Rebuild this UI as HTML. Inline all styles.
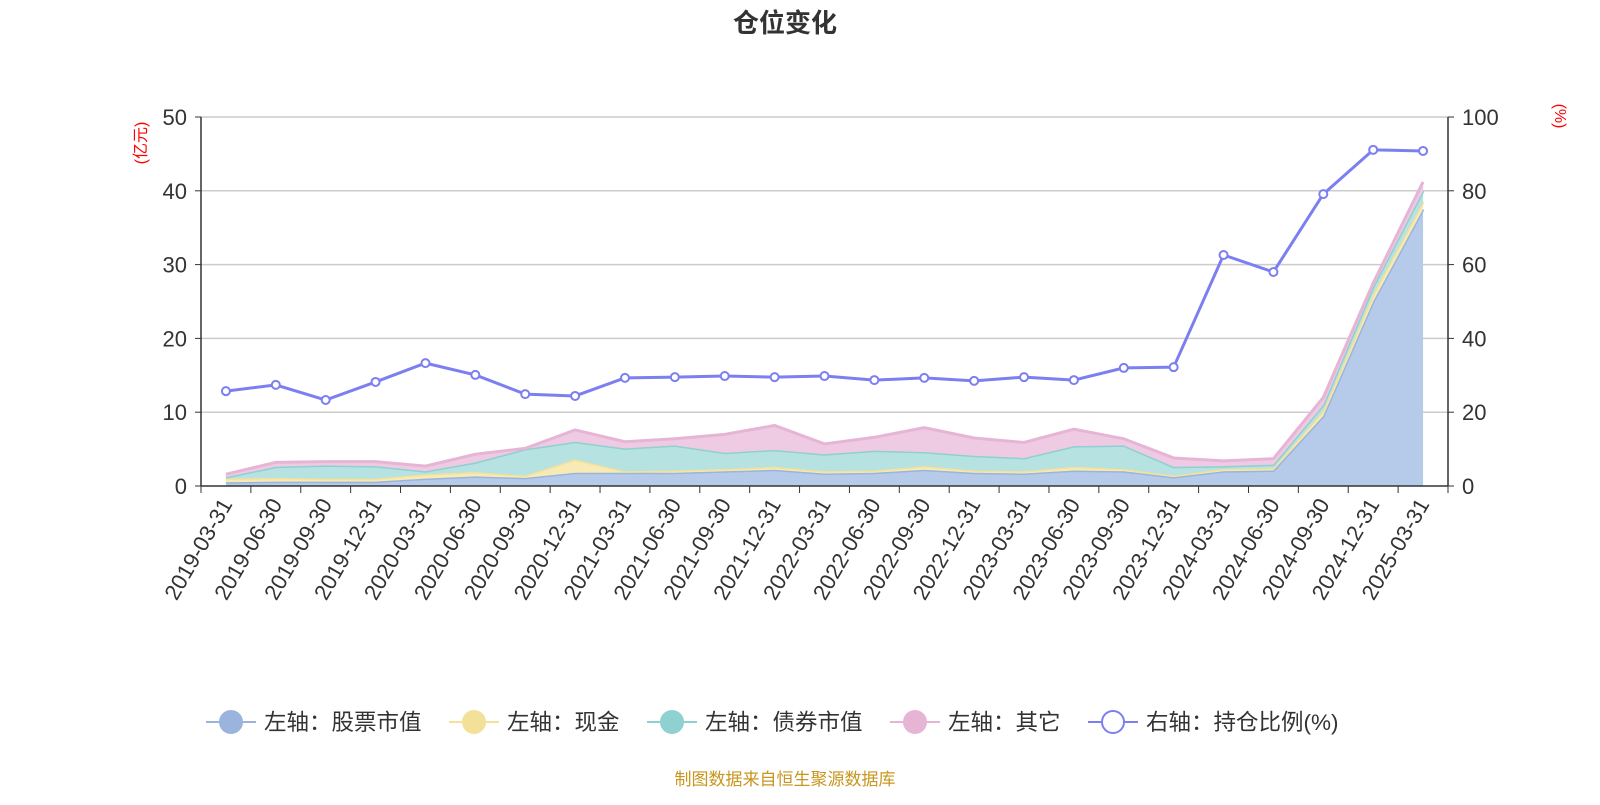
<!DOCTYPE html>
<html><head><meta charset="utf-8"><style>
body{margin:0;background:#fff;width:1600px;height:800px;overflow:hidden;font-family:"Liberation Sans","Noto Sans CJK SC",sans-serif}
</style></head><body>
<svg id="c" width="1600" height="800" xmlns="http://www.w3.org/2000/svg" style="font-family:'Liberation Sans','Noto Sans CJK SC',sans-serif">
<text x="785" y="32" text-anchor="middle" font-size="26" font-weight="bold" fill="#333">仓位变化</text>
<text x="0" y="0" transform="translate(146,143) rotate(-90)" text-anchor="middle" font-size="16" fill="red">(亿元)</text>
<text x="0" y="0" transform="translate(1555,116) rotate(90)" text-anchor="middle" font-size="16" fill="red">(%)</text>
<g id="grid"></g><g id="areas"></g><g id="axes"></g><g id="line"></g>
<g id="legend"></g>
<text x="785" y="785" text-anchor="middle" font-size="17" fill="#c8961e">制图数据来自恒生聚源数据库</text>
</svg>
<script>
const categories=["2019-03-31","2019-06-30","2019-09-30","2019-12-31","2020-03-31","2020-06-30","2020-09-30","2020-12-31","2021-03-31","2021-06-30","2021-09-30","2021-12-31","2022-03-31","2022-06-30","2022-09-30","2022-12-31","2023-03-31","2023-06-30","2023-09-30","2023-12-31","2024-03-31","2024-06-30","2024-09-30","2024-12-31","2025-03-31"];
const stockValues=[0.5,0.6,0.6,0.6,1.0,1.3,1.1,1.8,1.8,1.8,2.0,2.2,1.7,1.8,2.2,1.8,1.7,2.1,2.0,1.2,2.0,2.1,9.5,25,37.5];
const cashValues=[0.5,0.5,0.4,0.4,0.6,0.6,0.3,1.8,0.2,0.3,0.3,0.4,0.3,0.3,0.5,0.3,0.3,0.5,0.3,0.2,0.3,0.3,0.7,1.0,1.0];
const bondValues=[0.2,1.5,1.8,1.7,0.4,1.3,3.6,2.4,3.1,3.4,2.2,2.3,2.3,2.7,1.9,2.0,1.8,2.8,3.2,1.2,0.4,0.5,0.8,1.0,1.5];
const otherValues=[0.4,0.6,0.5,0.6,0.7,1.1,0.1,1.6,0.9,0.9,2.5,3.3,1.4,1.8,3.3,2.4,2.1,2.3,0.9,1.2,0.7,0.8,1.0,0.5,1.2];
const ratioValues=[25.7,27.4,23.3,28.2,33.3,30.1,24.9,24.4,29.3,29.5,29.8,29.5,29.8,28.7,29.3,28.5,29.5,28.7,32.0,32.2,62.6,58.0,79.1,91.1,90.8];
const leftTicks=[0,10,20,30,40,50];
const rightTicks=[0,20,40,60,80,100];
const NS="http://www.w3.org/2000/svg";
const X0=201,X1=1448,Y0=486,Y1=117;
const band=(X1-X0)/categories.length;
const xs=i=>X0+band*(i+0.5);
const yL=v=>Y0-(v/50)*(Y0-Y1);
const yR=v=>Y0-(v/100)*(Y0-Y1);
function mk(tag,attrs,parent){const e=document.createElementNS(NS,tag);for(const k in attrs)e.setAttribute(k,attrs[k]);parent.appendChild(e);return e;}
const grid=document.getElementById('grid'),axes=document.getElementById('axes'),areas=document.getElementById('areas'),lineG=document.getElementById('line'),leg=document.getElementById('legend');
leftTicks.forEach((t,i)=>{
 const y=yL(t);
 if(t>0){const g=mk('line',{x1:X0,x2:X1,y1:y,y2:y,stroke:'#ccc','stroke-width':1.5},grid);
 
 }
 const tl=mk('text',{x:X0-14,y:y+8,'text-anchor':'end','font-size':22,fill:'#333'},axes);tl.textContent=t;
 
 
 mk('line',{x1:X0-6,x2:X0,y1:y,y2:y,stroke:'#333'},axes);
});
rightTicks.forEach(t=>{
 const y=yR(t);
 const tl=mk('text',{x:X1+14,y:y+8,'text-anchor':'start','font-size':22,fill:'#333'},axes);tl.textContent=t;
 
 
 mk('line',{x1:X1,x2:X1+6,y1:y,y2:y,stroke:'#333'},axes);
});
mk('line',{x1:X0,x2:X0,y1:Y1,y2:Y0,stroke:'#333','stroke-width':1.5},axes);
mk('line',{x1:X1,x2:X1,y1:Y1,y2:Y0,stroke:'#333','stroke-width':1.5},axes);
mk('line',{x1:X0,x2:X1,y1:Y0,y2:Y0,stroke:'#333','stroke-width':1.5},axes);
for(let i=0;i<=categories.length;i++){const x=X0+band*i;mk('line',{x1:x,x2:x,y1:Y0,y2:Y0+7,stroke:'#333'},axes);}
categories.forEach((c,i)=>{
 const x=xs(i);
 const t=mk('text',{transform:`translate(${x+7},${Y0+18}) rotate(-60)`,'text-anchor':'end','font-size':22,fill:'#333'},axes);t.textContent=c;
 
 
});
const series=[[stockValues,'#b6cbea','#9ab4de','stock-area'],[cashValues,'#f8eab4','#f3e19a','cash-area'],[bondValues,'#b6e2e2','#8fd0d0','bond-area'],[otherValues,'#efcbe3','#e6b5d6','other-area']];
let base=categories.map(()=>0);
series.forEach(([vals,fill,stroke,name])=>{
 const top=base.map((b,i)=>b+vals[i]);
 let d='M'+top.map((v,i)=>xs(i)+','+yL(v)).join('L');
 for(let i=categories.length-1;i>=0;i--)d+='L'+xs(i)+','+yL(base[i]);
 const a=mk('path',{d:d+'Z',fill:fill,stroke:'none'},areas);
 
 
 const l=mk('polyline',{points:top.map((v,i)=>xs(i)+','+yL(v)).join(' '),fill:'none',stroke:stroke,'stroke-width':3},areas);
 
 
 base=top;
});
const pl=mk('polyline',{points:ratioValues.map((v,i)=>xs(i)+','+yR(v)).join(' '),fill:'none',stroke:'#7b7ff0','stroke-width':3},lineG);


ratioValues.forEach((v,i)=>{
 const p=mk('circle',{cx:xs(i),cy:yR(v),r:4,fill:'#fff',stroke:'#7b7ff0','stroke-width':2},lineG);
 
 
});
const legItems=[['左轴：股票市值','#9ab4de',true,206],['左轴：现金','#f3e19a',true,449],['左轴：债券市值','#8fd0d0',true,647],['左轴：其它','#e6b5d6',true,890],['右轴：持仓比例(%)','#7b7ff0',false,1088]];
legItems.forEach(([t,c,filled,x])=>{
 const g=mk('g',{},leg);
 
 
 mk('line',{x1:x,x2:x+50,y1:722,y2:722,stroke:c,'stroke-width':2},g);
 mk('circle',{cx:x+25,cy:722,r:11,fill:filled?c:'#fff',stroke:c,'stroke-width':2},g);
 const tx=mk('text',{x:x+58,y:730,'font-size':22.5,fill:'#333'},g);tx.textContent=t;
});
</script>
</body></html>
